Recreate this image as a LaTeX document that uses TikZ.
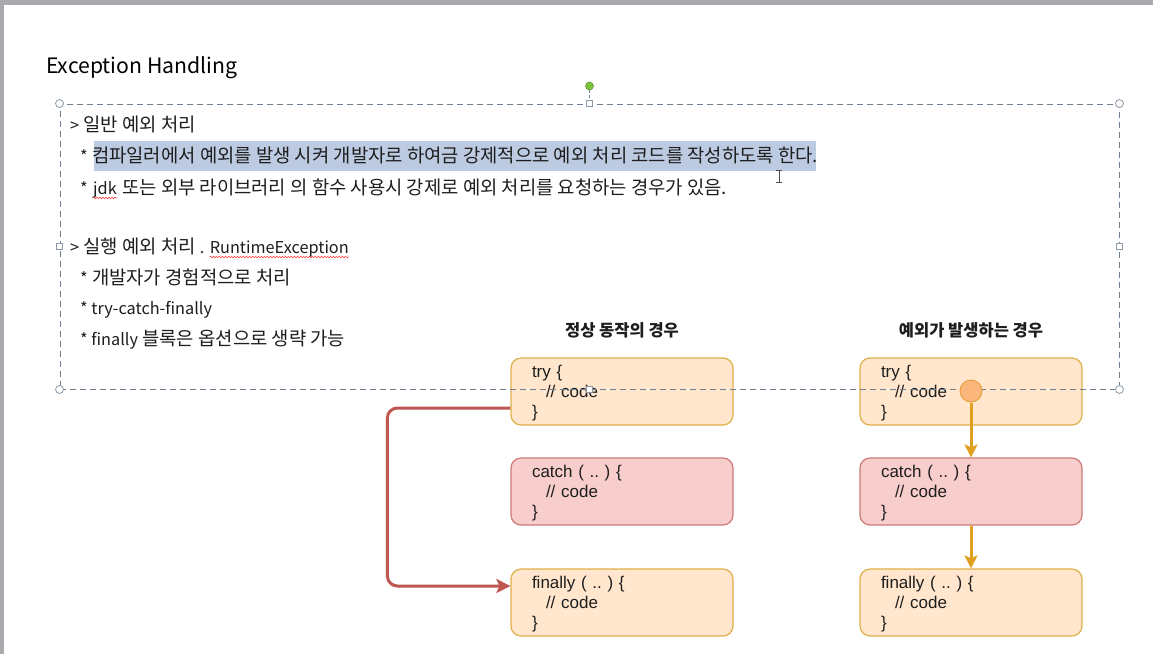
\documentclass[tikz,border=0pt]{standalone}
\usepackage{fontspec}
\setmainfont{Noto Sans CJK KR}
\newfontfamily\krfont{Noto Sans CJK KR}
\newfontfamily\hvfont{Liberation Sans}
\newcommand\latrun[1]{{\fontsize{16.3}{20}\selectfont #1}}
\frenchspacing
\usetikzlibrary{arrows.meta,decorations.pathmorphing}
\definecolor{barg}{HTML}{A9AAAE}
\definecolor{selb}{HTML}{BDCBE2}
\definecolor{dashc}{HTML}{6E7F92}
\definecolor{orfill}{HTML}{FFE6CC}
\definecolor{orline}{HTML}{E0B04A}
\definecolor{rdfill}{HTML}{F8CECC}
\definecolor{rdline}{HTML}{CC7A77}
\definecolor{arrred}{HTML}{BE5652}
\definecolor{arror}{HTML}{DFA01E}
\definecolor{dotfill}{HTML}{FBB67C}
\definecolor{dotline}{HTML}{E8A040}
\definecolor{txt}{HTML}{1E1E1E}
\definecolor{hgreen}{HTML}{7CC33C}
\begin{document}
\begin{tikzpicture}[x=1pt,y=-1pt,
  bodyt/.style={anchor=base west, font=\krfont\frenchspacing\fontsize{18.8}{20}\selectfont, text=txt, inner sep=0pt},
  hdr/.style={anchor=base, font=\krfont\bfseries\fontsize{16.5}{20}\selectfont, text=txt, inner sep=0pt},
  cbox/.style={rectangle, rounded corners=10pt, line width=1.2pt, minimum height=67pt, minimum width=222pt, inner sep=0pt},
  codet/.style={inner sep=0pt, text width=180pt, align=left, font=\hvfont\frenchspacing\fontsize{17}{20}\selectfont, text=txt},
  trybox/.style={cbox, fill=orfill, draw=orline},
  catchbox/.style={cbox, fill=rdfill, draw=rdline},
  redarr/.style={draw=arrred, line width=3pt, rounded corners=10pt,
    -{Stealth[length=14pt,width=14pt,inset=3pt]}},
  orarr/.style={draw=arror, line width=3pt, -{Stealth[length=13pt,width=13pt,inset=3pt]}},
  hcirc/.style={circle, draw=dashc!80, fill=white, line width=0.8pt, minimum size=8pt, inner sep=0pt},
  hsq/.style={rectangle, draw=dashc!80, fill=white, line width=0.8pt, minimum size=6pt, inner sep=0pt},
  squig/.style={draw=red!75, line width=0.6pt, decorate, decoration={snake, segment length=3pt, amplitude=0.8pt}}
]
\useasboundingbox (0,0) rectangle (1153,654);
\fill[white] (0,0) rectangle (1153,654);
\fill[barg] (0,0) rectangle (1153,5);
\fill[barg] (0,0) rectangle (4,654);

% title
\node[anchor=base west, font=\krfont\fontsize{21.2}{26}\selectfont, text=black, inner sep=0pt] (title) at (46,73) {Exception Handling};

% highlight
\fill[selb] (94,141) rectangle (816,171);

% body text
\node[bodyt] (l1) at (70,131) {\latrun{>} 일반 예외 처리};
\node[bodyt] (l2) at (80,162) {\latrun{*} 컴파일러에서 예외를 발생 시켜 개발자로 하여금 강제적으로 예외 처리 코드를 작성하도록 한다.};
\node[bodyt] (l3a) at (80,194) {\latrun{*}\kern5pt};
\node[bodyt] (l3b) at (l3a.base east) {\latrun{jdk}};
\node[bodyt] (l3c) at (l3b.base east) {\kern5pt 또는 외부 라이브러리 의 함수 사용시 강제로 예외 처리를 요청하는 경우가 있음.};
\node[bodyt] (l4a) at (70,253) {\latrun{>} 실행 예외 처리 \latrun{.}\kern5pt};
\node[bodyt] (l4b) at (l4a.base east) {\latrun{RuntimeException}};
\node[bodyt] (l5) at (80,284) {\latrun{*} 개발자가 경험적으로 처리};
\node[bodyt] (l6) at (80,314) {\latrun{* try-catch-finally}};
\node[bodyt] (l7) at (80,345) {\latrun{* finally} 블록은 옵션으로 생략 가능};

% spell-check squiggles
\draw[squig] ([yshift=-4pt]l3b.base west) -- ([yshift=-4pt]l3b.base east);
\draw[squig] ([yshift=-4pt]l4b.base west) -- ([yshift=-4pt]l4b.base east);

% text cursor
\draw[line width=1pt, black!70] (779,170) -- (779,182) (776,170) -- (782,170) (776,182) -- (782,182);

% headers
\node[hdr] (h1) at (622,336) {정상 동작의 경우};
\node[hdr] (h2) at (971,336) {예외가 발생하는 경우};

% boxes left
\node[trybox] (t1) at (622,391.5) {};
\node[catchbox] (c1) at (622,491.5) {};
\node[trybox] (f1) at (622,602.5) {};
\node[codet] (t1t) at ([yshift=-2pt]t1.center) {try \{\\\hspace*{14pt}// code\\\}};
\node[codet] (c1t) at ([yshift=-2pt]c1.center) {catch ( .. ) \{\\\hspace*{14pt}// code\\\}};
\node[codet] (f1t) at ([yshift=-2pt]f1.center) {finally ( .. ) \{\\\hspace*{14pt}// code\\\}};
% boxes right
\node[trybox] (t2) at (971,391.5) {};
\node[catchbox] (c2) at (971,491.5) {};
\node[trybox] (f2) at (971,602.5) {};
\node[codet] (t2t) at ([yshift=-2pt]t2.center) {try \{\\\hspace*{14pt}// code\\\}};
\node[codet] (c2t) at ([yshift=-2pt]c2.center) {catch ( .. ) \{\\\hspace*{14pt}// code\\\}};
\node[codet] (f2t) at ([yshift=-2pt]f2.center) {finally ( .. ) \{\\\hspace*{14pt}// code\\\}};

% red path
\draw[redarr] ([yshift=-16.5pt]t1.west) -- ++(-123,0) |- ([yshift=16.5pt]f1.west);

% selection rectangle
\node[draw=dashc, dashed, dash pattern=on 6pt off 4pt, line width=0.9pt, minimum width=1059pt, minimum height=285pt, inner sep=0pt] (sel) at (589.5,246.5) {};
\node[circle, fill=hgreen, draw=hgreen!70!black, line width=0.5pt, minimum size=8pt, inner sep=0pt] (rot) at (589.5,86) {};
\draw[dashc, line width=0.8pt, dash pattern=on 3pt off 2pt] (rot.south) -- (sel.north);
\node[hcirc] (hnw) at (sel.north west) {};
\node[hcirc] (hne) at (sel.north east) {};
\node[hcirc] (hsw) at (sel.south west) {};
\node[hcirc] (hse) at (sel.south east) {};
\node[hsq] (hn) at (sel.north) {};
\node[hsq] (hs) at (sel.south) {};
\node[hsq] (hw) at (sel.west) {};
\node[hsq] (he) at (sel.east) {};

% orange flow
\node[circle, fill=dotfill, draw=dotline, line width=1pt, minimum size=22pt, inner sep=0pt] (dot) at (971,391) {};
\draw[orarr] (dot.south) -- (c2.north);
\draw[orarr] (c2.south) -- (f2.north);
\end{tikzpicture}
\end{document}
